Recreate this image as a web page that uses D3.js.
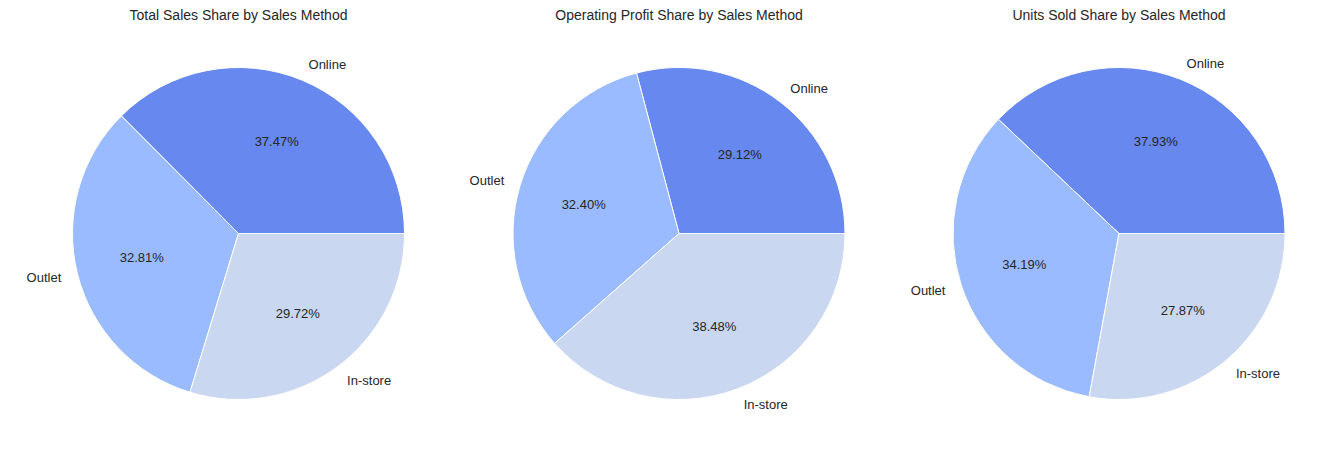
<!DOCTYPE html>
<html><head><meta charset="utf-8">
<script src="https://cdn.jsdelivr.net/npm/d3@7"></script>
<style>body{margin:0;background:#fff}svg{display:block}text{font-family:"Liberation Sans",Arial,sans-serif;fill:#262626}</style>
</head><body><svg id="c" width="1318" height="457"></svg>
<script>
const categories = ["Online", "Outlet", "In-store"];
const titles = ["Total Sales Share by Sales Method", "Operating Profit Share by Sales Method", "Units Sold Share by Sales Method"];
const totalSalesShare = [37.47, 32.81, 29.72];
const operatingProfitShare = [29.12, 32.40, 38.48];
const unitsSoldShare = [37.93, 34.19, 27.87];
const colors = ["#6788ee", "#9abbff", "#c9d7f0"];

const seriesList = [totalSalesShare, operatingProfitShare, unitsSoldShare];
const centersX = [238.5, 679, 1119];
const cy = 233.5, R = 166;
const svg = d3.select("#c");
const color = d3.scaleOrdinal().domain(categories).range(colors);
const pie = d3.pie().sort(null).value(d => d.v).startAngle(Math.PI / 2).endAngle(Math.PI / 2 - 2 * Math.PI);
const arc = d3.arc().innerRadius(0).outerRadius(R);

seriesList.forEach((vals, i) => {
  const g = svg.append("g").attr("transform", `translate(${centersX[i]},${cy})`);
  const data = pie(categories.map((c, j) => ({c, v: vals[j]})));
  g.selectAll("path").data(data).join("path")
    .attr("d", arc).attr("fill", d => color(d.data.c))
    .attr("stroke", "#fff").attr("stroke-width", 1).attr("stroke-linejoin", "round");
  data.forEach(d => {
    const a = (d.startAngle + d.endAngle) / 2;
    const sx = Math.sin(a), sy = -Math.cos(a);
    g.append("text").attr("x", 1.1 * R * sx).attr("y", 1.1 * R * sy)
      .attr("dy", "0.35em").attr("font-size", 13)
      .attr("text-anchor", sx >= 0 ? "start" : "end").text(d.data.c);
    g.append("text").attr("x", 0.6 * R * sx).attr("y", 0.6 * R * sy)
      .attr("dy", "0.35em").attr("font-size", 13)
      .attr("text-anchor", "middle").text(d.data.v.toFixed(2) + "%");
  });
  svg.append("text").attr("x", centersX[i]).attr("y", 20)
    .attr("text-anchor", "middle").attr("font-size", 14).text(titles[i]);
});
</script></body></html>
